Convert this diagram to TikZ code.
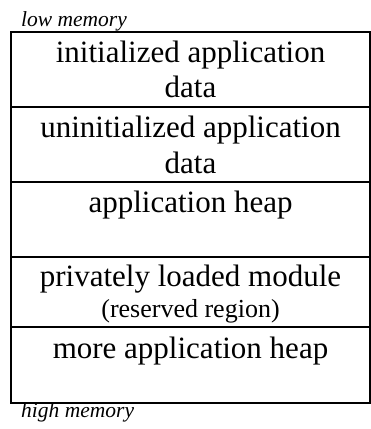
\documentclass[tikz,border=0pt]{standalone}
\usepackage{fontspec}
\setmainfont{Liberation Serif}
\begin{document}
\begin{tikzpicture}[x=1pt,y=-1pt,
  rowbox/.style={draw, line width=2pt, minimum width=359pt, inner sep=0pt, outer sep=0pt},
  main/.style={anchor=base, inner sep=0pt, font=\fontsize{31}{35}\selectfont},
  sub/.style={anchor=base, inner sep=0pt, font=\fontsize{26}{30}\selectfont},
  lbl/.style={anchor=base west, inner sep=0pt, font=\fontsize{21.5}{24}\selectfont\itshape}]
\useasboundingbox (0,0) rectangle (371,429);
% rows
\node[rowbox, minimum height=75pt] (r1) at (190.5,69.5) {};
\node[rowbox, minimum height=75pt] (r2) at (190.5,144.5) {};
\node[rowbox, minimum height=75pt] (r3) at (190.5,219.5) {};
\node[rowbox, minimum height=70pt] (r4) at (190.5,292) {};
\node[rowbox, minimum height=76pt] (r5) at (190.5,365) {};
% texts
\node[lbl] (low) at (21,26) {low memory};
\node[main] (t1a) at (190.5,62) {initialized application};
\node[main] (t1b) at (190.5,97) {data};
\node[main] (t2a) at (190.5,137) {uninitialized application};
\node[main] (t2b) at (190.5,173) {data};
\node[main] (t3) at (190.5,212) {application heap};
\node[main] (t4a) at (190.5,286) {privately loaded module};
\node[sub] (t4b) at (190.5,317) {(reserved region)};
\node[main] (t5) at (190.5,358) {more application heap};
\node[lbl] (high) at (21,417) {high memory};
\end{tikzpicture}
\end{document}
